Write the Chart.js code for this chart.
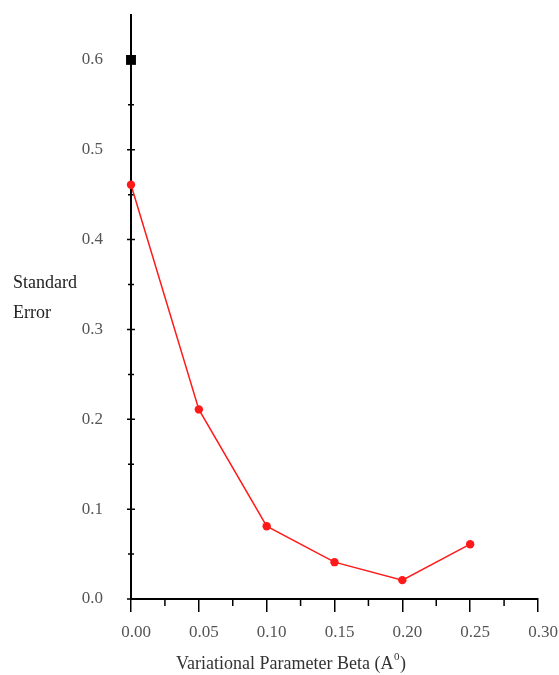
<!DOCTYPE html>
<html><head><meta charset="utf-8">
<script src="https://cdn.jsdelivr.net/npm/chart.js@4/dist/chart.umd.min.js"></script>
<style>html,body{margin:0;padding:0;background:#fff}#wrap{width:559px;height:675px}</style>
</head><body><div id="wrap"><canvas id="c" width="559" height="675"></canvas></div>
<script>
const betaValues = [0.00, 0.05, 0.10, 0.15, 0.20, 0.25];
const standardError = [0.461, 0.211, 0.081, 0.041, 0.021, 0.061];
const markerX = [0.00];
const markerY = [0.60];
const xTickValues = [0, 0.05, 0.10, 0.15, 0.20, 0.25, 0.30];
const yTickValues = [0, 0.1, 0.2, 0.3, 0.4, 0.5, 0.6];
const xMinorTicks = [0.025, 0.075, 0.125, 0.175, 0.225, 0.275];
const yMinorTicks = [0.05, 0.15, 0.25, 0.35, 0.45, 0.55];
const yTitleLines = ['Standard', 'Error'];
const xTitleParts = ['Variational Parameter Beta (A', '0', ')'];

const serif = '"Liberation Serif", "DejaVu Serif", serif';

const decor = {
  id: 'decor',
  beforeDatasetsDraw(chart) {
    const {ctx, chartArea, scales: {x, y}} = chart;
    const ax = chartArea.left;
    ctx.save();
    ctx.strokeStyle = '#000';
    ctx.lineWidth = 1.5;
    ctx.beginPath();
    yTickValues.forEach(v => { const py = y.getPixelForValue(v); ctx.moveTo(ax - 4, py); ctx.lineTo(ax + 4, py); });
    yMinorTicks.forEach(v => { const py = y.getPixelForValue(v); ctx.moveTo(ax - 3, py); ctx.lineTo(ax + 3, py); });
    xMinorTicks.forEach(v => { const px = x.getPixelForValue(v); ctx.moveTo(px, chartArea.bottom); ctx.lineTo(px, chartArea.bottom + 7); });
    ctx.stroke();
    ctx.restore();
  },
  afterDraw(chart) {
    const {ctx} = chart;
    ctx.save();
    ctx.fillStyle = '#222';
    ctx.font = '18px ' + serif;
    ctx.textAlign = 'left';
    ctx.textBaseline = 'middle';
    yTitleLines.forEach((t, i) => ctx.fillText(t, 13, 283 + i * 30));
    // x title with superscript
    ctx.fillStyle = '#333';
    const big = '18px ' + serif, small = '11px ' + serif;
    ctx.font = big; const w0 = ctx.measureText(xTitleParts[0]).width, w2 = ctx.measureText(xTitleParts[2]).width;
    ctx.font = small; const w1 = ctx.measureText(xTitleParts[1]).width + 1;
    let sx = 291 - (w0 + w1 + w2) / 2;
    ctx.font = big; ctx.fillText(xTitleParts[0], sx, 664); sx += w0;
    ctx.font = small; ctx.fillText(xTitleParts[1], sx + 0.5, 657); sx += w1;
    ctx.font = big; ctx.fillText(xTitleParts[2], sx, 664);
    ctx.restore();
  }
};

new Chart(document.getElementById('c'), {
  type: 'scatter',
  data: {
    datasets: [
      {
        data: betaValues.map((b, i) => ({x: b, y: standardError[i]})),
        showLine: true,
        borderColor: '#ff1a1a',
        backgroundColor: '#ff1a1a',
        borderWidth: 1.5,
        pointRadius: 4.2,
        pointBorderWidth: 0,
        clip: false
      },
      {
        data: markerX.map((b, i) => ({x: b, y: markerY[i]})),
        showLine: false,
        pointStyle: 'rect',
        pointRadius: 7,
        borderColor: '#000',
        backgroundColor: '#000',
        pointBorderWidth: 0,
        clip: false
      }
    ]
  },
  options: {
    responsive: false,
    animation: false,
    devicePixelRatio: 1,
    layout: {padding: {left: 0, right: 21, top: 15, bottom: 0}},
    plugins: {legend: {display: false}, tooltip: {enabled: false}},
    scales: {
      x: {
        type: 'linear',
        min: 0, max: 0.30,
        afterBuildTicks: s => { s.ticks = xTickValues.map(v => ({value: v})); },
        afterFit: s => { s.height = 76; s.paddingLeft = 0; s.paddingRight = 0; },
        border: {display: true, color: '#000', width: 2},
        grid: {display: true, drawOnChartArea: false, drawTicks: true, tickLength: 13, color: '#000', lineWidth: 1.5},
        ticks: {
          padding: 10,
          labelOffset: 5,
          color: '#555',
          font: {family: serif, size: 17},
          callback: v => Number(v).toFixed(2)
        }
      },
      y: {
        type: 'linear',
        min: 0, max: 0.65,
        afterBuildTicks: s => { s.ticks = yTickValues.map(v => ({value: v})); },
        afterFit: s => { s.width = 131; s.paddingTop = 0; s.paddingBottom = 0; },
        border: {display: true, color: '#000', width: 2},
        grid: {display: false},
        ticks: {
          padding: 20,
          color: '#555',
          font: {family: serif, size: 17},
          callback: v => Number(v).toFixed(1)
        }
      }
    }
  },
  plugins: [decor]
});
</script>
</body></html>
